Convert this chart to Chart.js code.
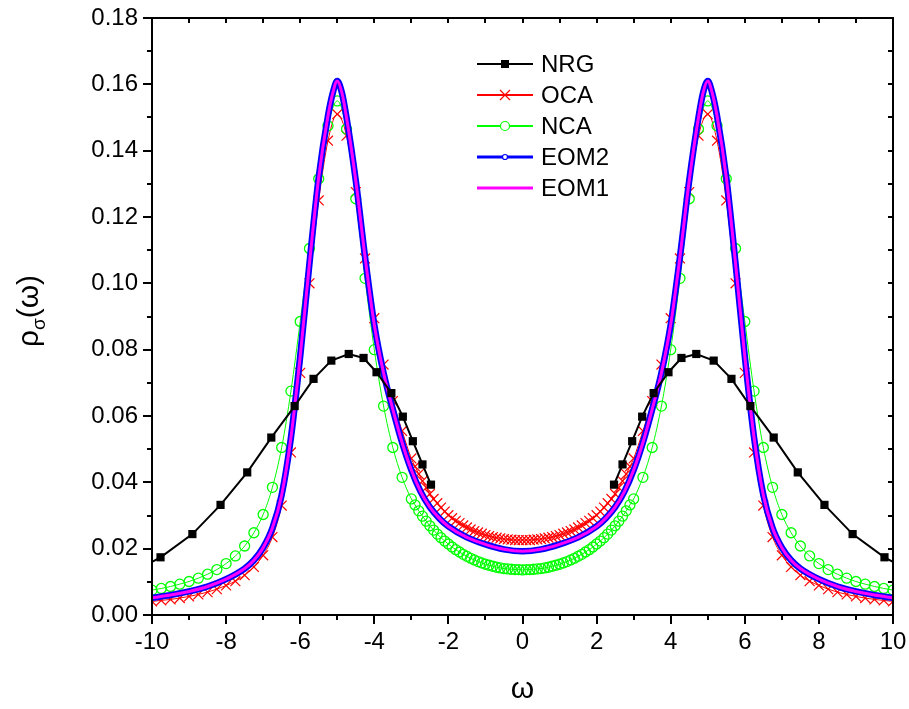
<!DOCTYPE html>
<html>
<head>
<meta charset="utf-8">
<script src="https://cdn.jsdelivr.net/npm/chart.js@4.4.1/dist/chart.umd.min.js"></script>
<style>
  html, body { margin: 0; padding: 0; background: #fff; }
  #wrap { width: 909px; height: 709px; }
</style>
</head>
<body>
<div id="wrap"><canvas id="chart" width="909" height="709"></canvas></div>
<script>
// Spectral function rho_sigma(omega): NRG, OCA, NCA, EOM2, EOM1

// NRG (log grid, no points in the gap around 0)
const nrgOmega = [-10.7, -9.77, -8.91, -8.15, -7.43, -6.78, -6.15, -5.64, -5.16, -4.69, -4.29, -3.94, -3.54, -3.23, -2.96, -2.70, -2.47,
                  0,
                  2.47, 2.70, 2.96, 3.23, 3.54, 3.94, 4.29, 4.69, 5.16, 5.64, 6.15, 6.78, 7.43, 8.15, 8.91, 9.77, 10.7];
const nrgRho = [0.0117, 0.0174, 0.0244, 0.0332, 0.0430, 0.0535, 0.0630, 0.0712, 0.0767, 0.0787, 0.0775, 0.0732, 0.0669, 0.0598, 0.0524, 0.0454, 0.0393,
                null,
                0.0393, 0.0454, 0.0524, 0.0598, 0.0669, 0.0732, 0.0775, 0.0787, 0.0767, 0.0712, 0.0630, 0.0535, 0.0430, 0.0332, 0.0244, 0.0174, 0.0117];

// OCA / NCA grid
const gridOmega = [-10, -9.75, -9.5, -9.25, -9, -8.75, -8.5, -8.25, -8, -7.75, -7.5, -7.25, -7, -6.75, -6.5, -6.25, -6, -5.75, -5.5, -5.25, -5, -4.75, -4.5, -4.25, -4, -3.75, -3.5, -3.25, -3,
  -2.9, -2.8, -2.7, -2.6, -2.5, -2.4, -2.3, -2.2, -2.1, -2, -1.9, -1.8, -1.7, -1.6, -1.5, -1.4, -1.3, -1.2, -1.1, -1, -0.9, -0.8, -0.7, -0.6, -0.5, -0.4, -0.3, -0.2, -0.1,
  0,
  0.1, 0.2, 0.3, 0.4, 0.5, 0.6, 0.7, 0.8, 0.9, 1, 1.1, 1.2, 1.3, 1.4, 1.5, 1.6, 1.7, 1.8, 1.9, 2, 2.1, 2.2, 2.3, 2.4, 2.5, 2.6, 2.7, 2.8, 2.9,
  3, 3.25, 3.5, 3.75, 4, 4.25, 4.5, 4.75, 5, 5.25, 5.5, 5.75, 6, 6.25, 6.5, 6.75, 7, 7.25, 7.5, 7.75, 8, 8.25, 8.5, 8.75, 9, 9.25, 9.5, 9.75, 10];

const ocaRho = [0.0041, 0.0044, 0.0047, 0.0051, 0.0056, 0.0062, 0.0069, 0.0078, 0.0089, 0.0102, 0.0120, 0.0145, 0.0180, 0.0235, 0.0330, 0.0490, 0.0730, 0.1000, 0.1250, 0.1430, 0.1510, 0.1445, 0.1275, 0.1075, 0.0895, 0.0755, 0.0645, 0.0555, 0.0472,
  0.0448, 0.0425, 0.0404, 0.0384, 0.0365, 0.0350, 0.0337, 0.0324, 0.0312, 0.0301, 0.0292, 0.0284, 0.0277, 0.0270, 0.0264, 0.0258, 0.0253, 0.0249, 0.0245, 0.0241, 0.0238, 0.0235, 0.0233, 0.0231, 0.0229, 0.0228, 0.0227, 0.0226, 0.0226,
  0.0226,
  0.0226, 0.0226, 0.0227, 0.0228, 0.0229, 0.0231, 0.0233, 0.0235, 0.0238, 0.0241, 0.0245, 0.0249, 0.0253, 0.0258, 0.0264, 0.0270, 0.0277, 0.0284, 0.0292, 0.0301, 0.0312, 0.0324, 0.0337, 0.0350, 0.0365, 0.0384, 0.0404, 0.0425, 0.0448,
  0.0472, 0.0555, 0.0645, 0.0755, 0.0895, 0.1075, 0.1275, 0.1445, 0.1510, 0.1430, 0.1250, 0.1000, 0.0730, 0.0490, 0.0330, 0.0235, 0.0180, 0.0145, 0.0120, 0.0102, 0.0089, 0.0078, 0.0069, 0.0062, 0.0056, 0.0051, 0.0047, 0.0044, 0.0041];

const ncaRho = [0.0075, 0.0080, 0.0086, 0.0093, 0.0101, 0.0111, 0.0123, 0.0137, 0.0155, 0.0178, 0.0208, 0.0248, 0.0303, 0.0385, 0.0505, 0.0675, 0.0885, 0.1105, 0.1315, 0.1475, 0.1550, 0.1465, 0.1255, 0.1015, 0.0800, 0.0630, 0.0505, 0.0415, 0.0350,
  0.0332, 0.0314, 0.0298, 0.0283, 0.0269, 0.0256, 0.0244, 0.0233, 0.0223, 0.0214, 0.0205, 0.0197, 0.0190, 0.0183, 0.0177, 0.0171, 0.0166, 0.0161, 0.0157, 0.0153, 0.0150, 0.0147, 0.0144, 0.0142, 0.0140, 0.0139, 0.0138, 0.0137, 0.0137,
  0.0136,
  0.0137, 0.0137, 0.0138, 0.0139, 0.0140, 0.0142, 0.0144, 0.0147, 0.0150, 0.0153, 0.0157, 0.0161, 0.0166, 0.0171, 0.0177, 0.0183, 0.0190, 0.0197, 0.0205, 0.0214, 0.0223, 0.0233, 0.0244, 0.0256, 0.0269, 0.0283, 0.0298, 0.0314, 0.0332,
  0.0350, 0.0415, 0.0505, 0.0630, 0.0800, 0.1015, 0.1255, 0.1465, 0.1550, 0.1475, 0.1315, 0.1105, 0.0885, 0.0675, 0.0505, 0.0385, 0.0303, 0.0248, 0.0208, 0.0178, 0.0155, 0.0137, 0.0123, 0.0111, 0.0101, 0.0093, 0.0086, 0.0080, 0.0075];

// EOM curves
const eomOmega = [-10, -9.5, -9, -8.5, -8, -7.5, -7.25, -7, -6.75, -6.5, -6.25, -6, -5.75, -5.5, -5.25, -5.125, -5, -4.875, -4.75, -4.5, -4.25, -4, -3.75, -3.5, -3.25, -3, -2.75, -2.5, -2.25, -2, -1.5, -1, -0.5,
  0,
  0.5, 1, 1.5, 2, 2.25, 2.5, 2.75, 3, 3.25, 3.5, 3.75, 4, 4.25, 4.5, 4.75, 4.875, 5, 5.125, 5.25, 5.5, 5.75, 6, 6.25, 6.5, 6.75, 7, 7.25, 7.5, 8, 8.5, 9, 9.5, 10];
const eom2Rho = [0.0052, 0.0060, 0.0071, 0.0086, 0.0108, 0.0140, 0.0165, 0.0203, 0.0262, 0.0362, 0.0535, 0.0780, 0.1060, 0.1320, 0.1505, 0.1572, 0.1610, 0.1575, 0.1500, 0.1310, 0.1080, 0.0875, 0.0730, 0.0620, 0.0520, 0.0437, 0.0372, 0.0325, 0.0292, 0.0267, 0.0234, 0.0213, 0.0198,
  0.0192,
  0.0198, 0.0213, 0.0234, 0.0267, 0.0292, 0.0325, 0.0372, 0.0437, 0.0520, 0.0620, 0.0730, 0.0875, 0.1080, 0.1310, 0.1500, 0.1575, 0.1610, 0.1572, 0.1505, 0.1320, 0.1060, 0.0780, 0.0535, 0.0362, 0.0262, 0.0203, 0.0165, 0.0140, 0.0108, 0.0086, 0.0071, 0.0060, 0.0052];
const eom1Rho = [0.0052, 0.0060, 0.0071, 0.0086, 0.0108, 0.0140, 0.0165, 0.0203, 0.0262, 0.0362, 0.0535, 0.0780, 0.1060, 0.1320, 0.1505, 0.1572, 0.1610, 0.1575, 0.1500, 0.1310, 0.1080, 0.0875, 0.0730, 0.0620, 0.0520, 0.0437, 0.0372, 0.0325, 0.0292, 0.0267, 0.0234, 0.0213, 0.0198,
  0.0192,
  0.0198, 0.0213, 0.0234, 0.0267, 0.0292, 0.0325, 0.0372, 0.0437, 0.0520, 0.0620, 0.0730, 0.0875, 0.1080, 0.1310, 0.1500, 0.1575, 0.1610, 0.1572, 0.1505, 0.1320, 0.1060, 0.0780, 0.0535, 0.0362, 0.0262, 0.0203, 0.0165, 0.0140, 0.0108, 0.0086, 0.0071, 0.0060, 0.0052];

// Axis ticks
const xTicks = [-10, -8, -6, -4, -2, 0, 2, 4, 6, 8, 10];
const yTicks = [0, 0.02, 0.04, 0.06, 0.08, 0.10, 0.12, 0.14, 0.16, 0.18];
const seriesNames = ['NRG', 'OCA', 'NCA', 'EOM2', 'EOM1'];

const FONT = "Arial, 'Liberation Sans', sans-serif";

function pts(xs, ys) {
    return xs.map((x, i) => ({ x: x, y: ys[i] }));
}

// Legend rows (style only; names from seriesNames)
const legendStyle = [
    { color: '#000000', width: 2, marker: 'square' },
    { color: '#ff0000', width: 2, marker: 'cross' },
    { color: '#00ff00', width: 2, marker: 'circle' },
    { color: '#0000ff', width: 3, marker: 'dot' },
    { color: '#ff00ff', width: 3, marker: null }
];

function drawMarker(ctx, kind, color, x, y) {
    ctx.save();
    ctx.strokeStyle = color;
    ctx.fillStyle = color;
    ctx.lineWidth = 1.2;
    if (kind === 'square') {
        ctx.fillRect(x - 4, y - 4, 8, 8);
    } else if (kind === 'cross') {
        ctx.beginPath();
        ctx.moveTo(x - 5, y - 5); ctx.lineTo(x + 5, y + 5);
        ctx.moveTo(x + 5, y - 5); ctx.lineTo(x - 5, y + 5);
        ctx.stroke();
    } else if (kind === 'circle') {
        ctx.fillStyle = '#fff';
        ctx.beginPath();
        ctx.arc(x, y, 4.5, 0, Math.PI * 2);
        ctx.fill();
        ctx.stroke();
    } else if (kind === 'dot') {
        ctx.fillStyle = '#fff';
        ctx.beginPath();
        ctx.arc(x, y, 2.5, 0, Math.PI * 2);
        ctx.fill();
        ctx.stroke();
    }
    ctx.restore();
}

const decorations = {
    id: 'decorations',
    afterDatasetsDraw(chart) {
        const ctx = chart.ctx;
        const a = chart.chartArea;
        const xs = chart.scales.x;
        const ys = chart.scales.y;
        ctx.save();
        ctx.strokeStyle = '#000';
        ctx.lineWidth = 2;
        ctx.strokeRect(a.left, a.top, a.right - a.left, a.bottom - a.top);

        ctx.beginPath();
        // bottom ticks (outward) and top ticks (inward)
        for (let v = -10; v <= 10; v++) {
            const px = Math.round(xs.getPixelForValue(v));
            const major = v % 2 === 0;
            ctx.moveTo(px, a.bottom);
            ctx.lineTo(px, a.bottom + (major ? 9 : 5));
            ctx.moveTo(px, a.top);
            ctx.lineTo(px, a.top + 5);
        }
        // left ticks (outward) and right ticks (inward)
        for (let k = 0; k <= 18; k++) {
            const py = Math.round(ys.getPixelForValue(k * 0.01));
            const major = k % 2 === 0;
            ctx.moveTo(a.left, py);
            ctx.lineTo(a.left - (major ? 9 : 5), py);
            ctx.moveTo(a.right, py);
            ctx.lineTo(a.right - 5, py);
        }
        ctx.stroke();

        // legend
        const lx0 = 477, lx1 = 533, ly0 = 64, dy = 31;
        ctx.font = '24px ' + FONT;
        ctx.textBaseline = 'middle';
        ctx.textAlign = 'left';
        seriesNames.forEach((name, i) => {
            const st = legendStyle[i];
            const yy = ly0 + i * dy;
            ctx.strokeStyle = st.color;
            ctx.lineWidth = st.width;
            ctx.beginPath();
            ctx.moveTo(lx0, yy);
            ctx.lineTo(lx1, yy);
            ctx.stroke();
            if (st.marker) drawMarker(ctx, st.marker, st.color, (lx0 + lx1) / 2, yy);
            ctx.fillStyle = '#000';
            ctx.fillText(name, 541, yy + 1);
        });

        // x title
        ctx.fillStyle = '#000';
        ctx.textAlign = 'center';
        ctx.textBaseline = 'middle';
        ctx.font = '30px ' + FONT;
        ctx.fillText('\u03c9', (a.left + a.right) / 2, 690);

        // y title: rho_sigma(omega)
        ctx.translate(30, 311);
        ctx.rotate(-Math.PI / 2);
        const big = '30px ' + FONT, small = '19px ' + FONT;
        ctx.font = big;
        const w1 = ctx.measureText('\u03c1').width;
        const w3 = ctx.measureText('(\u03c9)').width;
        ctx.font = small;
        const w2 = ctx.measureText('\u03c3').width;
        let sx = -(w1 + w2 + w3) / 2;
        ctx.textAlign = 'left';
        ctx.font = big;
        ctx.fillText('\u03c1', sx, 0);
        sx += w1;
        ctx.font = small;
        ctx.fillText('\u03c3', sx, 10);
        sx += w2;
        ctx.font = big;
        ctx.fillText('(\u03c9)', sx, 0);
        ctx.restore();
    }
};

const ctx = document.getElementById('chart').getContext('2d');
new Chart(ctx, {
    type: 'line',
    data: {
        datasets: [
            {
                label: 'NRG',
                data: pts(nrgOmega, nrgRho),
                borderColor: '#000000',
                backgroundColor: '#000000',
                borderWidth: 2,
                pointStyle: 'rect',
                pointRadius: 5.8,
                pointBorderWidth: 0,
                tension: 0,
                spanGaps: false,
                clip: 0
            },
            {
                label: 'EOM1',
                data: pts(eomOmega, eom1Rho),
                borderColor: '#ff00ff',
                borderWidth: 3,
                pointRadius: 0,
                cubicInterpolationMode: 'monotone',
                clip: 0
            },
            {
                label: 'EOM2',
                data: pts(eomOmega, eom2Rho),
                borderColor: '#0000ff',
                borderWidth: 6.5,
                pointRadius: 0,
                cubicInterpolationMode: 'monotone',
                clip: 0
            },
            {
                label: 'NCA',
                data: pts(gridOmega, ncaRho),
                borderColor: '#00ff00',
                backgroundColor: 'rgba(0,0,0,0)',
                borderWidth: 1,
                pointStyle: 'circle',
                pointRadius: 5,
                pointBorderWidth: 1.3,
                cubicInterpolationMode: 'monotone',
                clip: 0
            },
            {
                label: 'OCA',
                data: pts(gridOmega, ocaRho),
                borderColor: '#ff0000',
                backgroundColor: '#ff0000',
                borderWidth: 1,
                pointStyle: 'crossRot',
                pointRadius: 7,
                pointBorderWidth: 1.2,
                cubicInterpolationMode: 'monotone',
                clip: 0
            }
        ]
    },
    options: {
        responsive: false,
        animation: false,
        layout: { padding: { top: 18, right: 16, left: 0, bottom: 0 } },
        plugins: {
            legend: { display: false },
            tooltip: { enabled: false }
        },
        scales: {
            x: {
                type: 'linear',
                min: -10,
                max: 10,
                afterBuildTicks: s => { s.ticks = xTicks.map(v => ({ value: v })); },
                afterFit: s => { s.height = 94; s.paddingLeft = 0; s.paddingRight = 0; },
                grid: { display: false, drawTicks: false },
                border: { display: false },
                ticks: {
                    color: '#000',
                    padding: 13,
                    maxRotation: 0,
                    font: { family: FONT, size: 24 },
                    callback: v => String(v)
                }
            },
            y: {
                type: 'linear',
                min: 0,
                max: 0.18,
                afterBuildTicks: s => { s.ticks = yTicks.map(v => ({ value: v })); },
                afterFit: s => { s.width = 152; s.paddingTop = 0; s.paddingBottom = 0; },
                grid: { display: false, drawTicks: false },
                border: { display: false },
                ticks: {
                    color: '#000',
                    padding: 14,
                    font: { family: FONT, size: 24 },
                    callback: v => Number(v).toFixed(2)
                }
            }
        }
    },
    plugins: [decorations]
});
</script>
</body>
</html>
